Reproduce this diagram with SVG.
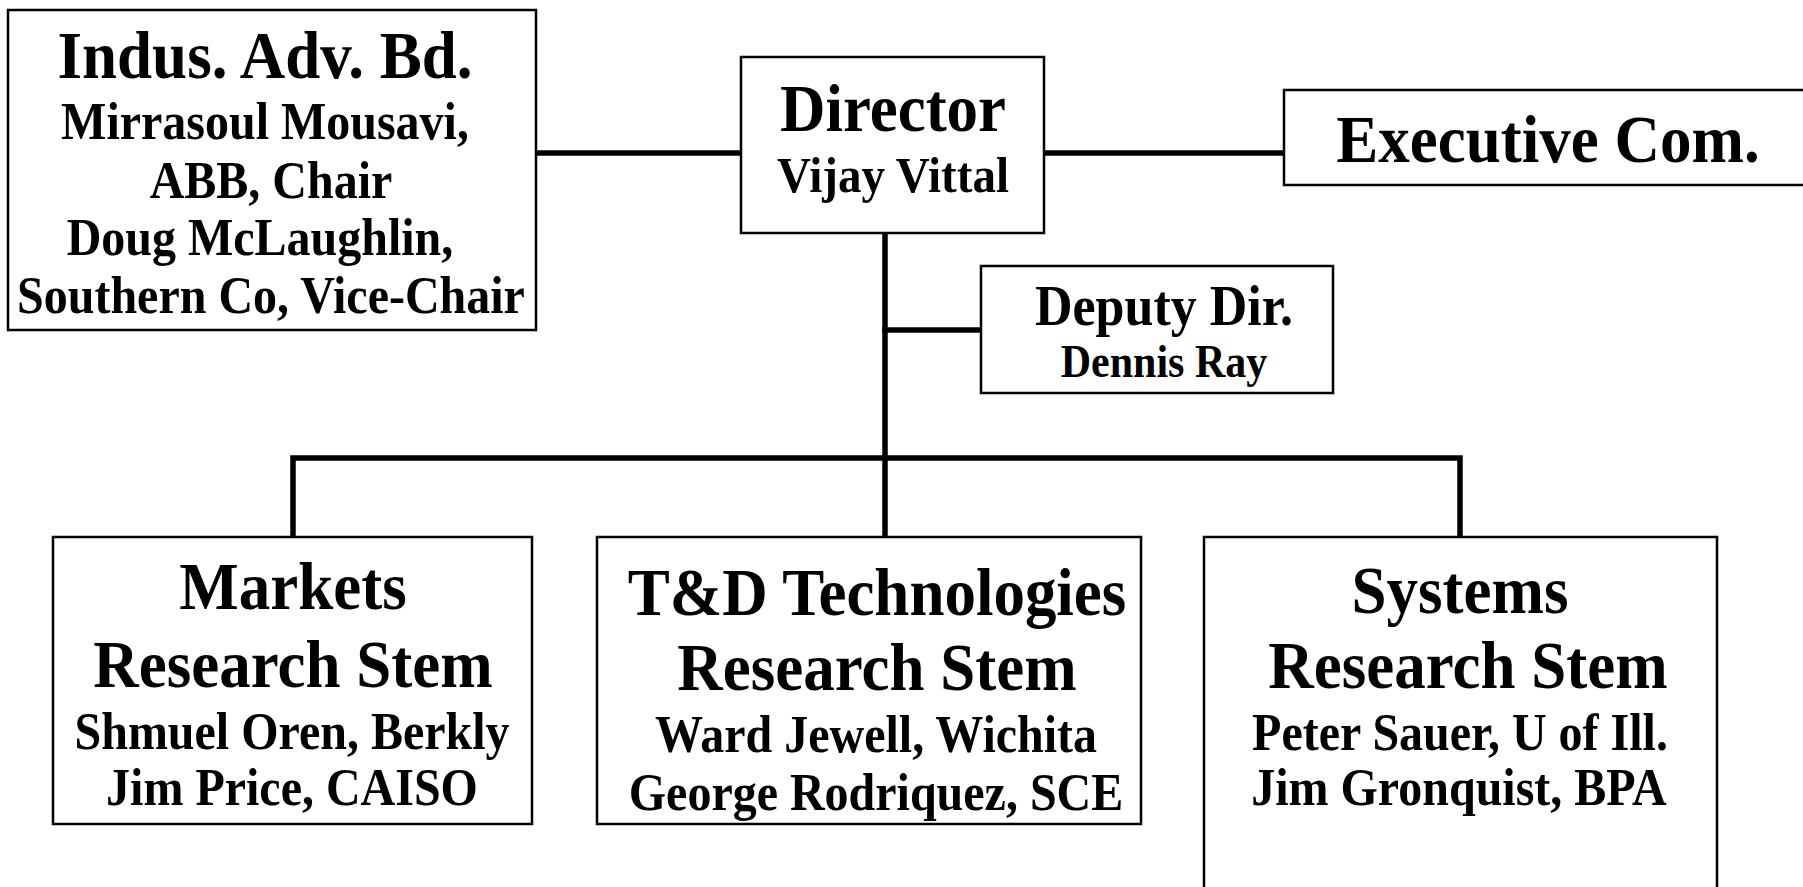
<svg xmlns="http://www.w3.org/2000/svg" width="1803" height="887" viewBox="0 0 1803 887">
<style>
.box{fill:#fff;stroke:#000;stroke-width:2.5}
.conn{stroke:#000;stroke-width:5.5;fill:none;stroke-linecap:square}
text{font-family:"Liberation Serif","Times New Roman",serif;font-weight:bold;fill:#000;text-anchor:middle}
.t{font-size:63px}
.s{font-size:48px}
.d1{font-size:52px}
.d2{font-size:42px}
.v{font-size:47px}
</style>
<rect width="1803" height="887" fill="#fff"/>
<g id="connectors">
<line class="conn" x1="536" y1="153" x2="741" y2="153"/>
<line class="conn" x1="1044" y1="153" x2="1284" y2="153"/>
<line class="conn" x1="885" y1="233" x2="885" y2="537"/>
<line class="conn" x1="885" y1="330" x2="981" y2="330"/>
<polyline class="conn" points="293,537 293,458 1460,458 1460,537"/>
</g>
<g id="indus">
<rect class="box" x="8" y="10" width="528" height="320"/>
<text class="t" transform="translate(265,78) scale(1,1.08)">Indus. Adv. Bd.</text>
<text class="s" transform="translate(265,139) scale(1,1.08)">Mirrasoul Mousavi,</text>
<text class="s" transform="translate(271,198) scale(1,1.08)">ABB, Chair</text>
<text class="s" transform="translate(260,255) scale(1,1.08)">Doug McLaughlin,</text>
<text class="s" transform="translate(271,313) scale(1,1.08)">Southern Co, Vice-Chair</text>
</g>
<g id="director">
<rect class="box" x="741" y="57" width="303" height="176"/>
<text class="t" transform="translate(893,131) scale(1,1.08)">Director</text>
<text class="v" transform="translate(893,192) scale(1,1.08)">Vijay Vittal</text>
</g>
<g id="executive">
<rect class="box" x="1284" y="90" width="530" height="95"/>
<text class="t" transform="translate(1548,162) scale(1,1.08)">Executive Com.</text>
</g>
<g id="deputy">
<rect class="box" x="981" y="266" width="352" height="127"/>
<text class="d1" transform="translate(1164,325) scale(1,1.08)">Deputy Dir.</text>
<text class="d2" transform="translate(1164,377) scale(1,1.08)">Dennis Ray</text>
</g>
<g id="markets">
<rect class="box" x="53" y="537" width="479" height="287"/>
<text class="t" transform="translate(293,609) scale(1,1.08)">Markets</text>
<text class="t" transform="translate(293,687) scale(1,1.08)">Research Stem</text>
<text class="s" transform="translate(292,749) scale(1,1.08)">Shmuel Oren, Berkly</text>
<text class="s" transform="translate(292,805) scale(1,1.08)">Jim Price, CAISO</text>
</g>
<g id="td">
<rect class="box" x="597" y="537" width="544" height="287"/>
<text class="t" transform="translate(877,615) scale(1,1.08)">T&amp;D Technologies</text>
<text class="t" transform="translate(877,690) scale(1,1.08)">Research Stem</text>
<text class="s" transform="translate(876,752) scale(1,1.08)">Ward Jewell, Wichita</text>
<text class="s" transform="translate(876,810) scale(1,1.08)">George Rodriquez, SCE</text>
</g>
<g id="systems">
<rect class="box" x="1204" y="537" width="513" height="370"/>
<text class="t" transform="translate(1460,613) scale(1,1.08)">Systems</text>
<text class="t" transform="translate(1468,688) scale(1,1.08)">Research Stem</text>
<text class="s" transform="translate(1460,750) scale(1,1.08)">Peter Sauer, U of Ill.</text>
<text class="s" transform="translate(1459,805) scale(1,1.08)">Jim Gronquist, BPA</text>
</g>
</svg>
